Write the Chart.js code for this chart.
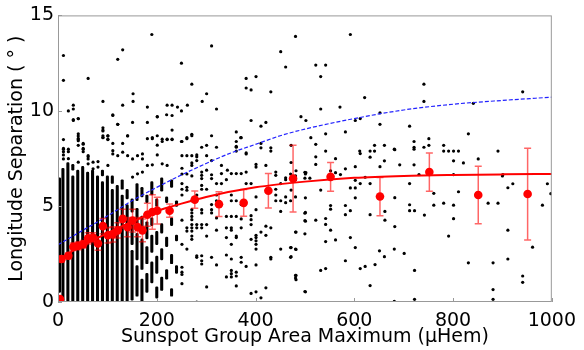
<!DOCTYPE html>
<html>
<head>
<meta charset="utf-8">
<script src="https://cdn.jsdelivr.net/npm/chart.js@4.4.1/dist/chart.umd.min.js"></script>
<style>
  html, body { margin: 0; padding: 0; background: #fff; }
  #wrap { width: 584px; height: 350px; }
</style>
</head>
<body>
<div id="wrap"><canvas id="chart" width="584" height="350"></canvas></div>
<script>
// binned means (red points) with their error bars
const binArea = [4, 7, 21, 31, 41, 51, 61, 71, 81, 91, 101, 111, 121, 131, 141, 151, 161, 171, 181, 191, 201, 226, 277, 326, 376, 426, 476, 552, 652, 752, 851, 951];
const binMean = [0.15, 2.25, 2.42, 2.89, 2.94, 3.02, 3.33, 3.37, 3.06, 3.97, 3.49, 3.54, 3.75, 4.35, 3.92, 4.26, 3.92, 3.75, 4.57, 4.71, 4.78, 4.78, 5.36, 5.12, 5.19, 5.82, 6.46, 6.55, 5.52, 6.8, 5.6, 5.65];
const binErr = [0, 0.15, 0.15, 0.2, 0.2, 0.2, 0.3, 0.25, 0.35, 0.4, 0.4, 0.4, 0.4, 0.5, 0.5, 0.6, 0.5, 0.6, 0.6, 0.9, 0.7, 0.35, 0.45, 0.65, 0.7, 0.9, 1.75, 0.75, 1.0, 1.0, 1.5, 2.4];

// red fitted curve
const fitArea = [0, 25, 50, 100, 150, 200, 250, 300, 400, 500, 600, 700, 800, 900, 1000];
const fitSep = [2.2, 2.6, 2.95, 3.6, 4.2, 4.75, 5.15, 5.5, 6.0, 6.3, 6.5, 6.6, 6.65, 6.68, 6.7];

// blue dashed curve
const modelArea = [0, 50, 100, 150, 200, 250, 300, 350, 400, 450, 500, 600, 700, 800, 900, 1000];
const modelSep = [3.0, 3.75, 4.5, 5.3, 6.0, 6.65, 7.25, 7.8, 8.25, 8.7, 9.05, 9.6, 10.05, 10.35, 10.55, 10.72];

// small areas: dots are packed into solid runs, one column per 10 uHem
const columnArea = [3, 10, 20, 30, 40, 50, 60, 70, 80, 90, 100, 110, 120, 130, 140, 150, 160, 170, 180, 190, 200, 210, 220, 230, 240];
const columnRuns = [
  [[0.5, 6.5]],
  [[0, 7.0]],
  [[0, 7.3]],
  [[0, 6.6], [6.9, 7.2]],
  [[0, 6.9]],
  [[0, 7.1]],
  [[0, 6.8]],
  [[0, 6.9]],
  [[0, 6.6]],
  [[0, 6.3], [6.6, 6.9]],
  [[0, 6.6]],
  [[0, 5.9], [6.2, 6.6]],
  [[0, 6.1]],
  [[0, 5.6], [5.9, 6.4]],
  [[0, 5.1], [5.4, 5.9]],
  [[0.1, 2.7], [3.0, 4.4], [4.7, 5.4]],
  [[0.3, 1.9], [2.2, 3.6], [3.9, 4.9], [5.3, 6.2]],
  [[0, 1.2], [1.7, 3.3], [3.7, 4.5], [5.5, 6.0]],
  [[0.5, 1.5], [2.0, 2.9], [3.3, 4.2], [5.2, 5.6]],
  [[1.0, 2.1], [2.6, 3.5], [4.0, 4.4], [5.6, 6.3]],
  [[0.2, 0.8], [1.5, 2.4], [3.0, 3.7], [5.0, 5.4]],
  [[0.6, 1.3], [2.2, 2.8], [3.6, 4.1], [5.8, 6.5]],
  [[1.2, 1.7], [2.9, 3.4], [5.2, 5.5]],
  [[0.3, 0.7], [2.0, 2.5], [4.0, 4.4], [6.0, 6.4]],
  [[1.5, 1.9], [3.2, 3.5], [5.0, 5.3]]
];

// individual groups (area, separation)
const sparseDots = [
  [11, 12.9], [11, 11.6], [190, 14.0], [131, 13.2], [121, 12.7], [61, 11.7], [311, 13.4], [250, 12.5], [271, 11.4], [301, 10.9],
  [321, 10.1], [292, 10.5], [262, 10.3], [250, 10.0], [242, 10.2], [221, 10.3], [231, 10.3], [181, 10.2], [201, 9.7], [220, 9.8],
  [181, 9.4], [131, 10.3], [152, 10.9], [152, 10.5], [111, 9.8], [91, 10.5], [121, 9.3], [151, 9.4], [31, 10.3], [31, 10.1],
  [21, 10.0], [31, 9.5], [41, 9.6], [41, 8.8], [41, 8.5], [41, 8.2], [11, 8.5], [11, 8.0], [11, 7.7], [21, 8.0], [21, 7.5],
  [51, 8.3], [51, 8.0], [61, 7.6], [91, 9.0], [91, 8.7], [91, 8.6], [101, 8.7], [101, 8.5], [111, 8.3], [141, 8.7], [131, 8.3],
  [181, 8.55], [191, 8.55], [201, 8.7], [211, 8.4], [221, 8.5], [231, 8.5], [231, 9.0], [250, 8.4], [261, 8.55], [271, 8.7],
  [291, 8.1], [301, 8.2], [311, 8.7], [321, 8.1], [361, 8.9], [371, 8.6], [381, 11.7], [381, 11.2], [391, 11.1], [401, 11.8],
  [431, 11.0], [391, 9.5], [411, 9.2], [421, 9.4], [451, 13.1], [461, 12.3], [481, 13.9], [361, 8.1], [361, 7.9], [381, 7.8], [411, 8.3],
  [592, 14.0], [522, 12.4], [542, 12.4], [532, 11.8], [621, 10.7], [741, 11.4], [741, 10.5], [941, 11.0], [841, 10.4], [532, 10.1],
  [571, 10.2], [492, 9.7], [502, 9.5], [602, 9.5], [612, 9.6], [652, 9.9], [652, 9.3], [712, 9.2], [582, 8.9], [542, 8.8], [512, 8.6],
  [522, 8.25], [831, 8.8], [721, 8.4], [721, 8.1], [721, 8.0], [751, 8.55], [751, 8.2], [741, 8.1], [781, 8.2], [781, 7.9], [791, 7.9],
  [801, 7.9], [811, 7.9], [891, 7.9], [641, 8.2], [661, 8.2], [611, 7.9], [641, 7.9], [681, 8.0], [542, 7.9], [472, 8.2], [472, 7.3],
  [482, 6.87], [502, 6.77], [522, 7.6], [522, 7.2], [562, 7.5], [582, 6.97], [552, 6.87], [562, 6.77], [572, 6.67], [602, 7.08],
  [632, 7.58], [652, 7.08], [661, 7.39], [692, 7.18], [721, 7.18], [731, 6.67], [801, 7.39], [821, 7.28], [851, 7.49], [901, 6.67],
  [801, 6.67], [612, 7.77], [632, 7.9], [682, 7.97],
  [500, 6.79], [500, 6.48], [510, 6.48], [532, 5.86], [602, 6.37], [612, 6.2], [622, 6.53], [632, 6.2], [592, 5.97], [602, 5.97],
  [602, 5.45], [632, 4.57], [662, 4.74], [662, 4.28], [682, 5.46], [712, 6.2], [712, 5.09], [712, 4.78], [722, 4.78], [742, 4.55],
  [500, 4.65], [500, 4.26], [500, 3.57], [522, 4.28], [542, 4.37], [542, 4.06], [552, 5.05], [552, 4.86], [552, 3.76], [582, 5.05],
  [582, 4.57], [592, 4.78], [562, 3.25], [542, 3.16], [592, 3.37], [602, 2.85], [682, 3.95], [651, 2.68], [661, 2.37], [681, 2.77],
  [701, 2.54], [582, 2.16], [532, 1.65], [542, 1.75], [612, 1.75], [622, 1.86], [642, 1.96], [722, 1.65], [632, 0.86], [500, 0.55],
  [681, 0.04], [722, 0.14],
  [900, 6.6], [911, 5.98], [921, 6.19], [991, 6.19], [998, 5.67], [761, 5.69], [761, 5.07], [781, 5.17], [801, 5.07], [801, 4.36],
  [811, 5.77], [791, 3.45], [871, 5.17], [891, 5.17], [911, 3.76], [961, 2.87], [981, 5.07], [831, 2.05], [881, 2.05], [911, 2.25],
  [941, 1.36], [941, 1.03], [881, 0.65], [881, 0.14],
  [482, 1.39], [482, 1.17], [482, 3.66], [472, 2.85], [482, 2.75], [472, 2.37], [472, 5.86],
  [271, 8.78], [261, 8.6], [251, 8.4], [370, 8.6], [361, 8.4], [361, 8.15], [381, 7.75], [411, 8.07], [431, 8.07], [431, 7.9],
  [251, 7.66], [261, 7.66], [271, 7.66], [281, 7.7], [281, 7.6], [281, 7.4], [271, 7.28], [271, 7.15], [301, 7.66], [311, 7.4],
  [331, 7.15], [343, 6.9], [401, 7.2], [401, 7.06], [421, 7.15], [251, 7.0], [251, 6.7], [261, 6.7], [271, 6.6], [291, 6.8],
  [291, 6.63], [291, 6.46], [301, 6.9], [311, 6.66], [311, 6.46], [331, 6.72], [351, 6.72], [361, 6.72], [371, 6.72], [381, 6.8],
  [341, 6.4], [321, 6.2], [331, 6.2], [381, 6.2], [391, 6.2], [441, 6.8], [441, 6.63], [461, 6.5], [471, 6.7], [481, 6.6], [501, 6.7],
  [461, 6.4], [451, 6.2], [481, 6.4], [251, 6.2], [251, 5.9], [251, 5.6], [261, 6.0], [261, 5.85], [291, 6.1], [291, 5.9], [301, 5.9],
  [271, 5.3], [281, 5.6], [311, 5.1], [321, 5.3], [321, 5.6], [351, 5.6], [351, 5.3], [361, 5.3], [371, 5.1], [401, 5.5], [441, 5.3],
  [441, 5.6], [441, 5.9], [461, 5.5], [461, 5.2], [451, 5.3], [471, 5.3], [481, 5.5], [501, 5.45],
  [251, 4.28], [251, 3.02], [251, 1.82], [251, 1.56], [251, 1.44], [251, 0.96], [261, 3.88], [261, 3.71], [261, 2.77],
  [271, 4.83], [271, 4.66], [271, 4.48], [271, 4.31], [271, 4.05], [271, 3.88], [271, 3.71], [271, 3.45], [271, 3.28],
  [281, 4.05], [281, 3.88], [281, 2.42], [281, 2.34], [281, 0.0], [291, 4.83], [291, 4.66], [291, 4.05], [291, 3.88], [291, 2.42],
  [291, 2.16], [291, 1.99], [301, 4.05], [301, 3.45], [301, 0.79], [311, 4.83], [311, 4.66], [311, 2.34], [321, 4.4], [321, 3.76],
  [321, 1.94], [341, 4.48], [341, 3.88], [341, 3.37], [341, 2.46], [341, 1.31], [351, 4.48], [351, 3.88], [351, 3.76], [351, 3.02],
  [351, 2.25], [351, 1.65], [351, 1.48], [351, 1.31], [361, 4.48], [361, 3.45], [361, 3.37], [361, 1.56], [361, 1.36], [361, 0.84],
  [371, 4.35], [371, 3.88], [371, 2.34], [371, 2.08], [381, 1.86], [391, 4.52], [391, 4.31], [391, 4.05], [391, 3.28], [391, 0.45],
  [401, 4.83], [401, 3.49], [401, 3.37], [401, 3.2], [401, 3.02], [401, 2.77], [401, 1.94], [401, 0.53], [411, 3.66], [411, 0.22],
  [421, 3.97], [421, 3.49], [421, 0.74], [431, 3.88], [431, 2.34], [431, 2.25], [451, 4.74], [451, 2.77], [471, 2.85], [471, 2.34],
  [481, 3.66], [481, 2.77], [481, 1.39], [481, 1.25], [501, 4.69], [501, 4.23], [501, 0.53],
  [171, 6.8], [161, 6.71], [151, 6.54], [101, 7.15], [81, 7.06], [71, 6.97], [61, 7.23], [181, 7.15], [191, 7.18], [211, 7.23],
  [221, 7.15], [201, 7.7], [11, 8.04], [11, 7.87], [21, 7.87], [11, 7.49], [41, 8.69], [41, 8.56], [41, 8.44], [31, 9.55],
  [41, 9.59], [51, 8.26], [51, 8.04], [51, 7.87], [41, 7.32], [61, 7.66], [61, 7.49], [71, 7.32], [81, 7.35], [91, 9.12],
  [91, 8.95], [91, 8.61], [101, 8.69], [101, 8.52], [111, 9.76], [121, 9.3], [121, 7.66], [111, 7.92], [111, 7.75], [131, 7.84],
  [141, 8.69], [141, 7.66], [151, 7.49], [161, 7.66], [171, 7.75], [171, 7.49], [191, 8.61], [201, 9.69], [201, 8.21], [211, 8.52],
  [221, 8.52], [231, 8.52], [231, 9.76]
];

const FONT = "'DejaVu Sans', sans-serif";

// flatten column runs into floating bars
const columnBars = [];
columnArea.forEach((x, i) => {
  columnRuns[i].forEach((r) => columnBars.push({ x: x, y: r }));
});

// error bars + frame drawn with the chart's own scales
const extras = {
  id: "extras",
  beforeDatasetDraw(chart, args) {
    if (args.index !== 0) return;
    const { ctx, scales } = chart;
    const xs = scales.x, ys = scales.y;
    ctx.save();
    ctx.beginPath();
    ctx.rect(chart.chartArea.left, chart.chartArea.top, chart.chartArea.width, chart.chartArea.height);
    ctx.clip();
    ctx.strokeStyle = "rgba(255, 0, 0, 0.6)";
    ctx.lineWidth = 1.5;
    binArea.forEach((a, i) => {
      if (!binErr[i]) return;
      const px = xs.getPixelForValue(a);
      const top = ys.getPixelForValue(binMean[i] + binErr[i]);
      const bot = ys.getPixelForValue(binMean[i] - binErr[i]);
      ctx.beginPath();
      ctx.moveTo(px, top); ctx.lineTo(px, bot);
      ctx.moveTo(px - 3.5, top); ctx.lineTo(px + 3.5, top);
      ctx.moveTo(px - 3.5, bot); ctx.lineTo(px + 3.5, bot);
      ctx.stroke();
    });
    ctx.restore();
  },
  afterDraw(chart) {
    const { ctx, chartArea: c, scales } = chart;
    ctx.save();
    ctx.strokeStyle = "#999";
    ctx.lineWidth = 1;
    ctx.strokeRect(c.left + 0.5, c.top + 0.5, c.width - 1, c.height - 1);
    // short inward ticks
    ctx.beginPath();
    scales.x.ticks.forEach((t) => {
      const px = Math.round(scales.x.getPixelForValue(t.value)) + 0.5;
      ctx.moveTo(px, c.bottom); ctx.lineTo(px, c.bottom - 4);
    });
    scales.y.ticks.forEach((t) => {
      const py = Math.round(scales.y.getPixelForValue(t.value)) + 0.5;
      ctx.moveTo(c.left, py); ctx.lineTo(c.left + 4, py);
    });
    ctx.stroke();
    ctx.restore();
  }
};

new Chart(document.getElementById("chart"), {
  type: "scatter",
  data: {
    datasets: [
      {
        label: "binned",
        data: binArea.map((a, i) => ({ x: a, y: binMean[i] })),
        pointRadius: 4.3,
        pointBackgroundColor: "#ff0000",
        pointBorderWidth: 0,
        order: 1
      },
      {
        label: "fit",
        data: fitArea.map((a, i) => ({ x: a, y: fitSep[i] })),
        showLine: true,
        pointRadius: 0,
        borderColor: "#ff0000",
        borderWidth: 2,
        cubicInterpolationMode: "monotone",
        order: 2
      },
      {
        label: "model",
        data: modelArea.map((a, i) => ({ x: a, y: modelSep[i] })),
        showLine: true,
        pointRadius: 0,
        borderColor: "#2222ff",
        borderWidth: 1.2,
        borderDash: [4, 2],
        cubicInterpolationMode: "monotone",
        order: 3
      },
      {
        label: "groups",
        data: sparseDots.map((d) => ({ x: d[0], y: d[1] })),
        pointRadius: 1.6,
        pointBackgroundColor: "#000",
        pointBorderWidth: 0,
        order: 4
      },
      {
        type: "bar",
        label: "groups packed",
        data: columnBars,
        backgroundColor: "#000",
        barThickness: 2.4,
        grouped: false,
        borderRadius: 1.2,
        borderSkipped: false,
        order: 5
      }
    ]
  },
  options: {
    responsive: false,
    animation: false,
    events: [],
    layout: { padding: { top: 11, right: 27, left: 0, bottom: 0 } },
    plugins: {
      legend: { display: false },
      tooltip: { enabled: false }
    },
    scales: {
      x: {
        type: "linear",
        min: 0,
        max: 1000,
        offset: false,
        grid: { display: false, drawTicks: false },
        border: { display: false },
        ticks: {
          stepSize: 200,
          color: "#000",
          padding: 8,
          font: { family: FONT, size: 19 },
          callback: (v) => String(v)
        },
        title: {
          display: true,
          text: "Sunspot Group Area Maximum (\u03bcHem)",
          color: "#000",
          font: { family: FONT, size: 19, lineHeight: 1.2 },
          padding: { top: 0, bottom: 2 }
        },
        afterFit: (s) => { s.height = 48; }
      },
      y: {
        type: "linear",
        min: 0,
        max: 15,
        grid: { display: false, drawTicks: false },
        border: { display: false },
        ticks: {
          stepSize: 5,
          color: "#000",
          padding: 4,
          font: { family: FONT, size: 19 },
          callback: (v) => String(v)
        },
        title: {
          display: true,
          text: "Longitude Separation ( \u00b0 )",
          color: "#000",
          font: { family: FONT, size: 19, lineHeight: 1.2 },
          padding: { top: 6, bottom: 0 }
        },
        afterFit: (s) => { s.width = 58; }
      }
    }
  },
  plugins: [extras]
});
</script>
</body>
</html>
